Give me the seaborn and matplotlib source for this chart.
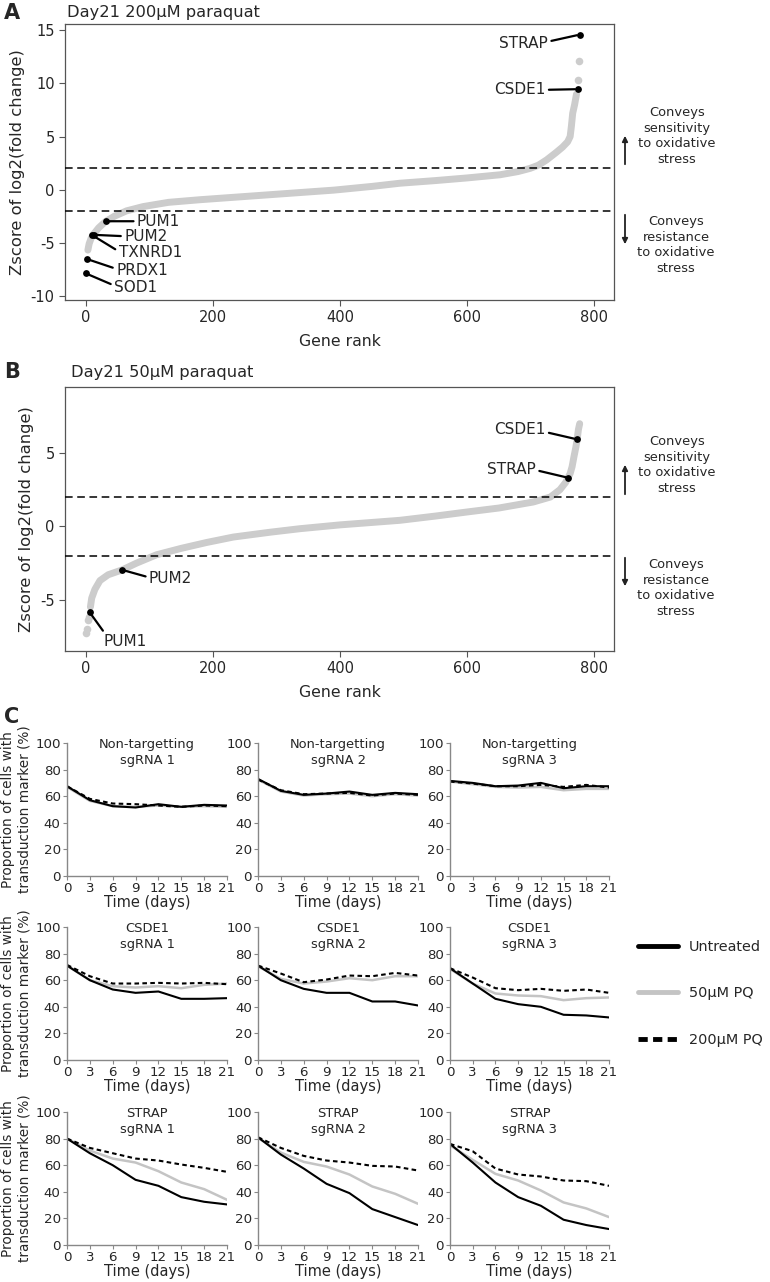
import matplotlib
matplotlib.use('Agg')
import matplotlib.pyplot as plt
import seaborn as sns
import pandas as pd
from matplotlib.lines import Line2D

# ---- panel A: Day21 200uM paraquat, z-scores along gene rank ----
rank_a = [3, 5, 8, 12, 20, 31, 45, 64, 90, 130, 180, 250, 320, 390, 450, 494, 550,
          600, 652, 680, 699, 712, 725, 740, 750, 758, 762, 764, 766, 769, 772]
z_a = [-5.7, -5.1, -4.6, -4.2, -3.6, -3.0, -2.5, -2.0, -1.6, -1.2, -0.95, -0.65, -0.35,
       -0.05, 0.3, 0.6, 0.85, 1.1, 1.4, 1.7, 2.0, 2.3, 2.8, 3.5, 4.0, 4.5, 5.0, 6.0, 7.2, 8.0, 9.0]
rank_a_sep = [775, 776]
z_a_sep = [10.3, 12.1]
genes_a = ['SOD1', 'PRDX1', 'TXNRD1', 'PUM2', 'PUM1', 'CSDE1', 'STRAP']
hit_rank_a = [0, 2, 10, 12, 32, 774, 777]
hit_z_a = [-7.9, -6.55, -4.3, -4.26, -2.98, 9.46, 14.6]

# ---- panel B: Day21 50uM paraquat ----
rank_b = [7, 9, 14, 22, 35, 57, 80, 111, 150, 190, 232, 290, 337, 400, 494, 550, 600,
          650, 704, 731, 746, 755, 762, 765, 768, 771, 773, 775, 777]
z_b = [-5.5, -4.9, -4.3, -3.7, -3.3, -2.97, -2.5, -1.94, -1.5, -1.1, -0.73, -0.4, -0.16,
       0.1, 0.41, 0.7, 0.98, 1.25, 1.66, 2.0, 2.5, 3.0, 3.6, 4.06, 4.75, 5.4, 5.93, 6.6, 7.0]
rank_b_sep = [0, 1, 3, 4]
z_b_sep = [-7.3, -7.0, -6.4, -6.2]
genes_b = ['PUM1', 'PUM2', 'STRAP', 'CSDE1']
hit_rank_b = [6, 57, 759, 773]
hit_z_b = [-5.87, -2.97, 3.31, 5.93]

# ---- panel C: time courses ----
days = [0, 3, 6, 9, 12, 15, 18, 21]
panel_titles = ['Non-targetting\nsgRNA 1', 'Non-targetting\nsgRNA 2', 'Non-targetting\nsgRNA 3',
                'CSDE1\nsgRNA 1', 'CSDE1\nsgRNA 2', 'CSDE1\nsgRNA 3',
                'STRAP\nsgRNA 1', 'STRAP\nsgRNA 2', 'STRAP\nsgRNA 3']
untreated = [
    [67.5, 57, 52.5, 51.5, 54, 52, 53.5, 53],
    [73, 64, 61, 62, 63.5, 61, 62.5, 61.5],
    [71.5, 70, 67.5, 68, 70, 66, 67.5, 67.5],
    [71, 60, 53, 50.5, 51.5, 46, 46, 46.5],
    [71, 60, 53.5, 50.5, 50.5, 44, 44, 41],
    [69, 57.5, 46, 42, 40, 34, 33.5, 32],
    [80, 69, 60, 49, 44.5, 36, 32.5, 30.5],
    [81, 68, 57.5, 46, 39, 27, 21, 15],
    [76, 62, 47, 36, 29.5, 19, 15, 12],
]
pq50 = [
    [67, 56.5, 52.5, 52, 53, 52, 52.5, 52],
    [72.5, 63.5, 60.5, 61.5, 62, 60, 61.5, 60.5],
    [71, 69, 67, 66.5, 67, 64.5, 65.5, 65.5],
    [71, 60, 55.5, 54.5, 55.5, 54, 56.5, 57.5],
    [70.5, 61, 57.5, 59, 61.5, 60, 63, 63],
    [68.5, 57.5, 50, 48.5, 48, 45, 46.5, 47],
    [80, 71, 65, 62, 55.5, 47, 42, 34],
    [80.5, 69.5, 62.5, 59, 53, 44, 38.5, 31],
    [75, 64, 53.5, 48.5, 41, 32, 27.5, 21],
]
pq200 = [
    [67.5, 58, 54.5, 54, 53, 52, 53, 52.5],
    [72.5, 64.5, 61.5, 62, 62.5, 60.5, 62, 61],
    [71, 69.5, 67.5, 67.5, 68.5, 67, 68.5, 66.5],
    [71.5, 63, 57.5, 57.5, 58, 57.5, 58, 57],
    [71, 65, 58.5, 60.5, 63.5, 63, 65.5, 63.5],
    [69, 62, 54, 52.5, 53.5, 52, 53, 50.5],
    [80, 73, 69, 65, 63.5, 60.5, 58, 55],
    [81, 73, 67, 63.5, 62, 59.5, 59, 56],
    [76, 70.5, 57.5, 53, 51.5, 48.5, 48, 44.5],
]
cond_names = ['Untreated', '50\u03bcM PQ', '200\u03bcM PQ']

# ---- style / layout ----
sns.set_style('ticks')
plt.rcParams['font.family'] = ['DejaVu Sans']
plt.rcParams['axes.unicode_minus'] = False

GRAY = '#cccccc'
W, H = 770, 1282
fig = plt.figure(figsize=(W / 100, H / 100), dpi=100)


def place(l, t, r, b):
    return fig.add_axes([l / W, 1 - b / H, (r - l) / W, (b - t) / H])


def fx(x):
    return x / W


def fy(y):
    return 1 - y / H


# label text positions (data coords) and where the connector meets the text
labels_a = {
    'STRAP': (689, 13.8, (1, 0.6)),
    'CSDE1': (683, 9.4, (1, 0.5)),
    'PUM1': (114, -2.98, (0, 0.5)),
    'PUM2': (94, -4.39, (0, 0.5)),
    'TXNRD1': (101, -5.95, (0, 0.6)),
    'PRDX1': (88, -7.6, (0, 0.6)),
    'SOD1': (78, -9.24, (0, 0.65)),
}
labels_b = {
    'CSDE1': (683, 6.58, (1, 0.35)),
    'STRAP': (670, 3.88, (1, 0.45)),
    'PUM2': (133, -3.58, (0, 0.6)),
    'PUM1': (61, -7.85, (0.05, 1.0)),
}


def rank_panel(ax, ranks, zs, sep_r, sep_z, genes, hr, hz, labels, ylim, yticks):
    sns.lineplot(x=ranks, y=zs, ax=ax, color=GRAY, lw=5, solid_capstyle='round', zorder=2)
    sns.scatterplot(x=sep_r, y=sep_z, ax=ax, color=GRAY, s=30, linewidth=0, zorder=2)
    for yv in (2, -2):
        ax.axhline(yv, color='black', lw=1.1, ls=(0, (5, 3)), zorder=3)
    sns.scatterplot(x=hr, y=hz, ax=ax, color='black', s=24, linewidth=0, zorder=5)
    for g, r, z in zip(genes, hr, hz):
        tx, ty, rel = labels[g]
        ax.annotate(g, xy=(r, z), xytext=(tx, ty), ha='center', va='center', fontsize=11,
                    arrowprops=dict(arrowstyle='-', lw=1.6, color='black', relpos=rel,
                                    shrinkA=0, shrinkB=2))
    ax.set_xlim(-33, 831)
    ax.set_ylim(*ylim)
    ax.set_xticks([0, 200, 400, 600, 800])
    ax.set_yticks(yticks)
    ax.set_xlabel('Gene rank', fontsize=11.3, labelpad=6)
    ax.set_ylabel('Zscore of log2(fold change)', fontsize=11.8, labelpad=4)
    ax.tick_params(labelsize=10.5, length=4, color='#555555', width=0.8)
    for sp in ax.spines.values():
        sp.set_color('#555555')
        sp.set_linewidth(0.9)


def side_notes(y_up, y_dn, t_up, t_dn):
    for (y0, y1) in (y_up, y_dn):
        fig.add_artist(matplotlib.patches.FancyArrowPatch(
            (fx(625), fy(y0)), (fx(625), fy(y1)), transform=fig.transFigure,
            arrowstyle='-|>', mutation_scale=8, lw=1.3, color='#222222'))
    fig.text(fx(677), fy(t_up), 'Conveys\nsensitivity\nto oxidative\nstress',
             ha='center', va='center', fontsize=9.4, linespacing=1.25)
    fig.text(fx(676), fy(t_dn), 'Conveys\nresistance\nto oxidative\nstress',
             ha='center', va='center', fontsize=9.4, linespacing=1.25)


# panel A
ax_a = place(65, 24, 614, 300)
rank_panel(ax_a, rank_a, z_a, rank_a_sep, z_a_sep, genes_a, hit_rank_a, hit_z_a,
           labels_a, (-10.4, 15.6), [-10, -5, 0, 5, 10, 15])
fig.text(fx(67), fy(12), 'Day21 200\u03bcM paraquat', fontsize=11.7, ha='left', va='center')
fig.text(fx(4), fy(13), 'A', fontsize=15, fontweight='bold', ha='left', va='center')
side_notes((167, 133), (212, 247), 136, 245)

# panel B
ax_b = place(65, 387, 614, 651)
rank_panel(ax_b, rank_b, z_b, rank_b_sep, z_b_sep, genes_b, hit_rank_b, hit_z_b,
           labels_b, (-8.5, 9.5), [-5, 0, 5])
fig.text(fx(71), fy(372), 'Day21 50\u03bcM paraquat', fontsize=11.7, ha='left', va='center')
fig.text(fx(4), fy(372), 'B', fontsize=15, fontweight='bold', ha='left', va='center')
side_notes((497, 462), (555, 589), 465, 588)

# panel C
fig.text(fx(4), fy(717), 'C', fontsize=15, fontweight='bold', ha='left', va='center')
col_x = [(67, 227), (258, 418), (450, 609)]
row_y = [(743, 876), (927, 1060), (1112, 1245)]
styles = [dict(color='black', lw=1.5),
          dict(color='#c4c4c4', lw=1.8),
          dict(color='black', lw=1.5, ls=(0, (2.2, 1.6)))]

for i, title in enumerate(panel_titles):
    r, c = divmod(i, 3)
    ax = place(col_x[c][0], row_y[r][0], col_x[c][1], row_y[r][1])
    df = pd.DataFrame({'day': days * 3,
                       'value': pq50[i] + pq200[i] + untreated[i],
                       'cond': [cond_names[1]] * 8 + [cond_names[2]] * 8 + [cond_names[0]] * 8})
    for name, st in zip([cond_names[1], cond_names[2], cond_names[0]],
                        [styles[1], styles[2], styles[0]]):
        sub = df[df['cond'] == name]
        sns.lineplot(data=sub, x='day', y='value', ax=ax, **st)
    ax.set_xlim(0, 21)
    ax.set_ylim(0, 100)
    ax.set_xticks(days)
    ax.set_yticks([0, 20, 40, 60, 80, 100])
    ax.tick_params(labelsize=9.6, length=3, color='#888888', width=0.8, pad=1.5)
    sns.despine(ax=ax)
    for sp in ('left', 'bottom'):
        ax.spines[sp].set_color('#888888')
        ax.spines[sp].set_linewidth(1.0)
    ax.set_xlabel('Time (days)', fontsize=10.5, labelpad=0)
    if c == 0:
        ax.set_ylabel('Proportion of cells with\ntransduction marker (%)', fontsize=9.8,
                      labelpad=3)
    else:
        ax.set_ylabel('')
    ax.text(0.5, 1.04, title, transform=ax.transAxes, ha='center', va='top', fontsize=9.4,
            linespacing=1.3)

handles = [Line2D([], [], color='black', lw=3.5),
           Line2D([], [], color='#c4c4c4', lw=3.5),
           Line2D([], [], color='black', lw=3.5, ls=(0, (1.9, 1.1)))]
fig.legend(handles, cond_names, loc='upper left', bbox_to_anchor=(fx(632), fy(934)),
           frameon=False, fontsize=10.4, handlelength=2.8, labelspacing=2.25,
           handletextpad=0.75, borderaxespad=0)

fig.savefig('out.png', dpi=100)
